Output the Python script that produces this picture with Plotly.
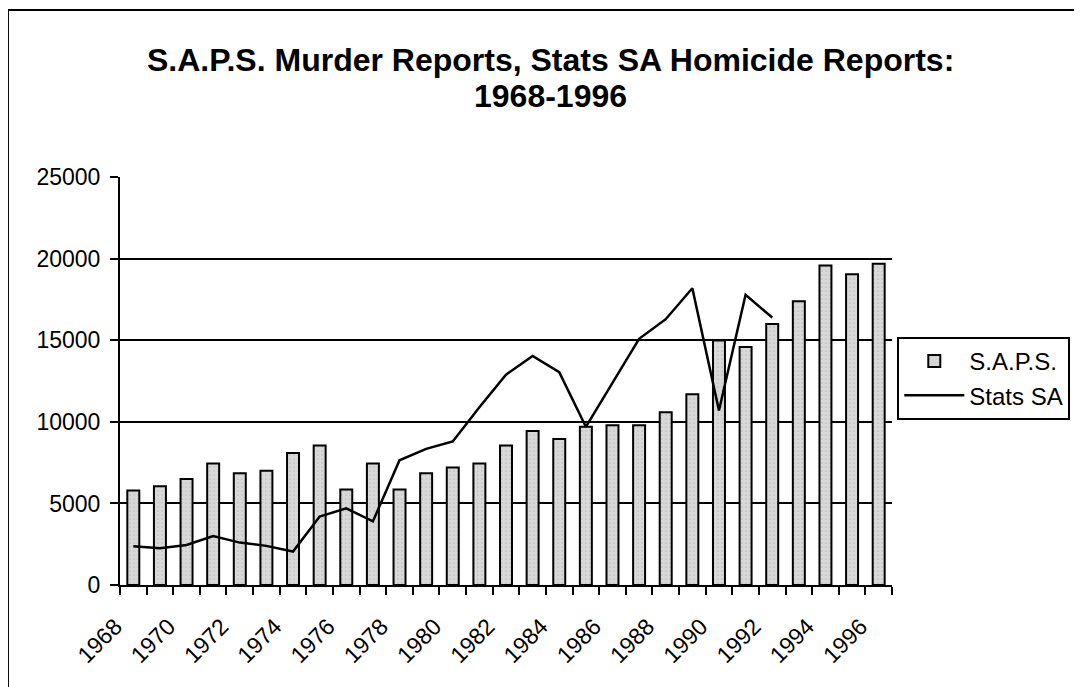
import plotly.graph_objects as go

years = [str(y) for y in range(1968, 1997)]
saps = [5800, 6050, 6500, 7450, 6850, 7000, 8100, 8550, 5850, 7450,
        5850, 6850, 7200, 7450, 8550, 9450, 8950, 9700, 9800, 9800,
        10600, 11700, 15000, 14600, 16000, 17400, 19600, 19050, 19700]
stats_years = [str(y) for y in range(1968, 1993)]
stats_sa = [2380, 2250, 2450, 3000, 2600, 2400, 2050, 4200, 4700, 3900,
            7650, 8350, 8800, 10900, 12900, 14050, 13050, 9700, 12400, 15100,
            16300, 18200, 10700, 17800, 16400]
tick_text = [y if int(y) % 2 == 0 else "" for y in years]

# page body has an 8px margin: work in screen pixels, subtract offset
OFF = 8
W, H = 1082, 687
SL, ST, SR, SB = 120, 177, 891.7, 585.3   # plot area in screen px
L, T = SL - OFF, ST - OFF
R, B = W - (SR - OFF), H - (SB - OFF)
pw, ph = W - L - R, H - T - B

def px_x(x):
    return (x - OFF - L) / pw

def px_y(y):
    return (H - B - (y - OFF)) / ph

FONT = "Liberation Sans, Arial, sans-serif"

fig = go.Figure()
fig.add_trace(go.Bar(
    x=years, y=saps, name="S.A.P.S.",
    marker=dict(color="#d2d2d2", line=dict(color="black", width=2),
                pattern=dict(shape=".", fgcolor="#a8a8a8", bgcolor="#d8d8d8", size=4, solidity=0.15)),
))
fig.add_trace(go.Scatter(
    x=stats_years, y=stats_sa, name="Stats SA", mode="lines",
    line=dict(color="black", width=2.5),
))

fig.update_layout(
    width=W, height=H,
    margin=dict(l=L, r=R, t=T, b=B, autoexpand=False),
    paper_bgcolor="white", plot_bgcolor="white",
    font=dict(family=FONT, color="black", size=23),
    bargap=0.55,
    showlegend=True,
    legend=dict(x=px_x(897), y=px_y(337), xanchor="left", yanchor="top",
                bordercolor="black", borderwidth=2, font=dict(size=24),
                itemwidth=60, tracegroupgap=0, traceorder="normal"),
    annotations=[
        dict(text="<b>S.A.P.S. Murder Reports, Stats SA Homicide Reports:</b>",
             x=px_x(550), y=px_y(60), xref="paper", yref="paper",
             xanchor="center", yanchor="middle", showarrow=False,
             font=dict(size=32, family=FONT)),
        dict(text="<b>1968-1996</b>",
             x=px_x(550), y=px_y(96), xref="paper", yref="paper",
             xanchor="center", yanchor="middle", showarrow=False,
             font=dict(size=32, family=FONT)),
    ],
    shapes=[
        dict(type="line", xref="paper", yref="paper",
             x0=px_x(8), x1=px_x(8), y0=px_y(10), y1=px_y(H + 20),
             line=dict(color="black", width=2)),
        dict(type="line", xref="paper", yref="paper",
             x0=px_x(8), x1=px_x(W + 20), y0=px_y(10), y1=px_y(10),
             line=dict(color="black", width=2)),
    ],
)

fig.update_xaxes(
    type="category", tickmode="array", tickvals=years, ticktext=tick_text,
    tickson="boundaries", ticks="outside", ticklen=8, tickwidth=2, tickcolor="black",
    tickangle=-45, showline=True, linecolor="black", linewidth=2,
    showgrid=False, range=[-0.5, len(years) - 0.5],
    ticklabelstandoff=17, ticklabelshift=-18,
)
fig.update_yaxes(
    range=[0, 25020], tickmode="array", tickvals=[0, 5000, 10000, 15000, 20000, 25000],
    tickformat="d", ticks="outside", ticklen=8, tickwidth=2,
    tickcolor="black", showline=True, linecolor="black", linewidth=2,
    showgrid=True, gridcolor="black", gridwidth=2, zeroline=False,
    ticklabelstandoff=5,
)

fig.write_html("out.html")
